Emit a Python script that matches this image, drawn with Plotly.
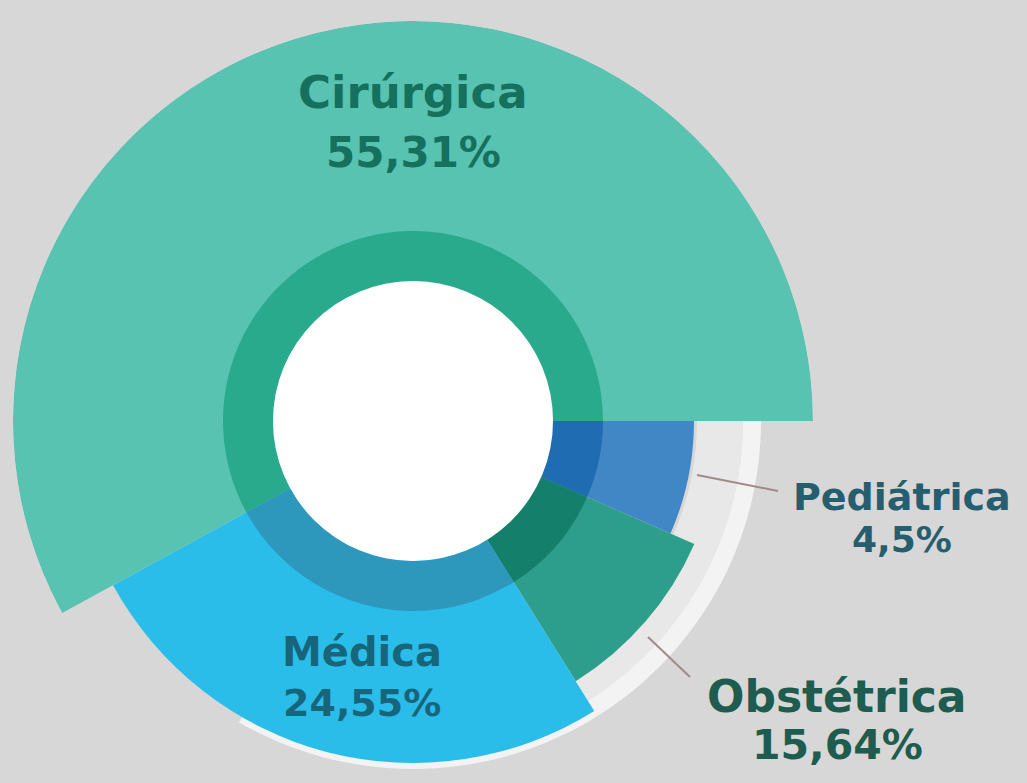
import plotly.graph_objects as go

# ---- data ----
categories = ["Pediátrica", "Obstétrica", "Médica", "Cirúrgica"]   # clockwise from 3 o'clock
pct_labels = ["4,5%", "15,64%", "24,55%", "55,31%"]
span_deg = [23.6, 34.4, 93.3, 208.7]          # angular span of each slice as drawn
outer_r = [281, 307, 342, 400]                 # outer radius of each slice as drawn

# ---- styles ----
slice_colors = ["#4187c6", "#2d9e8c", "#2bbde9", "#58c3b1"]
ring_colors = ["#1f6cb3", "#14806c", "#2d98bc", "#2aaa8c"]
text_colors = ["#255e6e", "#1d5c4e", "#17657a", "#16705e"]

W, H = 1027, 840
CX, CY, R = 413, 421, 400          # centre and radius in px (from top-left)
HOLE_R, RING_R = 140, 190

starts = [sum(span_deg[:i]) for i in range(len(span_deg))]
centers = [s + w / 2 for s, w in zip(starts, span_deg)]

fig = go.Figure()

# translucent white ring behind the slices (lower-right part only)
fig.add_trace(go.Barpolar(r=[46], base=[284], theta=[60], width=[120],
                          marker=dict(color="rgba(255,255,255,0.42)", line=dict(width=0)),
                          hoverinfo="skip", showlegend=False))
fig.add_trace(go.Barpolar(r=[18], base=[330], theta=[60], width=[120],
                          marker=dict(color="rgba(255,255,255,0.7)", line=dict(width=0)),
                          hoverinfo="skip", showlegend=False))
# main slices
fig.add_trace(go.Barpolar(r=outer_r, theta=centers, width=span_deg,
                          marker=dict(color=slice_colors, line=dict(width=0)),
                          text=categories, hoverinfo="text", showlegend=False))
# darker inner ring
fig.add_trace(go.Barpolar(r=[RING_R - HOLE_R] * 4, base=[HOLE_R] * 4, theta=centers, width=span_deg,
                          marker=dict(color=ring_colors, line=dict(width=0)),
                          hoverinfo="skip", showlegend=False))
# white centre
fig.add_trace(go.Barpolar(r=[HOLE_R], base=[0], theta=[180], width=[360],
                          marker=dict(color="#ffffff", line=dict(width=0)),
                          hoverinfo="skip", showlegend=False))


def px(x):
    return x / W


def py(y):
    return 1 - y / H


label_pos = {  # (x, y of name, y of pct) in px
    "Pediátrica": (902, 497, 539),
    "Obstétrica": (837, 696, 745),
    "Médica": (362, 652, 703),
    "Cirúrgica": (413, 92, 152),
}
name_size = {"Pediátrica": 38, "Obstétrica": 44, "Médica": 40, "Cirúrgica": 45}
pct_size = {"Pediátrica": 36, "Obstétrica": 41, "Médica": 38, "Cirúrgica": 42}

annotations = []
for cat, pct, col in zip(categories, pct_labels, text_colors):
    x, y1, y2 = label_pos[cat]
    annotations.append(dict(x=px(x), y=py(y1), xref="paper", yref="paper", text=f"<b>{cat}</b>",
                            showarrow=False, font=dict(family="DejaVu Sans", size=name_size[cat], color=col),
                            xanchor="center", yanchor="middle"))
    annotations.append(dict(x=px(x), y=py(y2), xref="paper", yref="paper", text=f"<b>{pct}</b>",
                            showarrow=False, font=dict(family="DejaVu Sans", size=pct_size[cat], color=col),
                            xanchor="center", yanchor="middle"))

shapes = [
    dict(type="line", xref="paper", yref="paper", x0=px(697), y0=py(475), x1=px(778), y1=py(491),
         line=dict(color="#a08a8a", width=2)),
    dict(type="line", xref="paper", yref="paper", x0=px(648), y0=py(637), x1=px(690), y1=py(677),
         line=dict(color="#a08a8a", width=2)),
]

fig.update_layout(
    width=W, height=H,
    margin=dict(l=0, r=0, t=0, b=0),
    paper_bgcolor="#d7d7d7",
    plot_bgcolor="#d7d7d7",
    polar=dict(
        domain=dict(x=[(CX - R) / W, (CX + R) / W], y=[(H - CY - R) / H, (H - CY + R) / H]),
        bgcolor="rgba(0,0,0,0)",
        radialaxis=dict(visible=False, range=[0, R]),
        angularaxis=dict(visible=False, rotation=0, direction="clockwise"),
        barmode="overlay",
    ),
    annotations=annotations,
    shapes=shapes,
    showlegend=False,
)

fig.write_html(
    "out.html",
    config={"displayModeBar": False},
    post_script=("document.body.style.margin='0';"
                 "document.body.style.background='#d7d7d7';"
                 "document.body.style.overflow='hidden';"
                 "document.documentElement.style.overflow='hidden';"),
)
